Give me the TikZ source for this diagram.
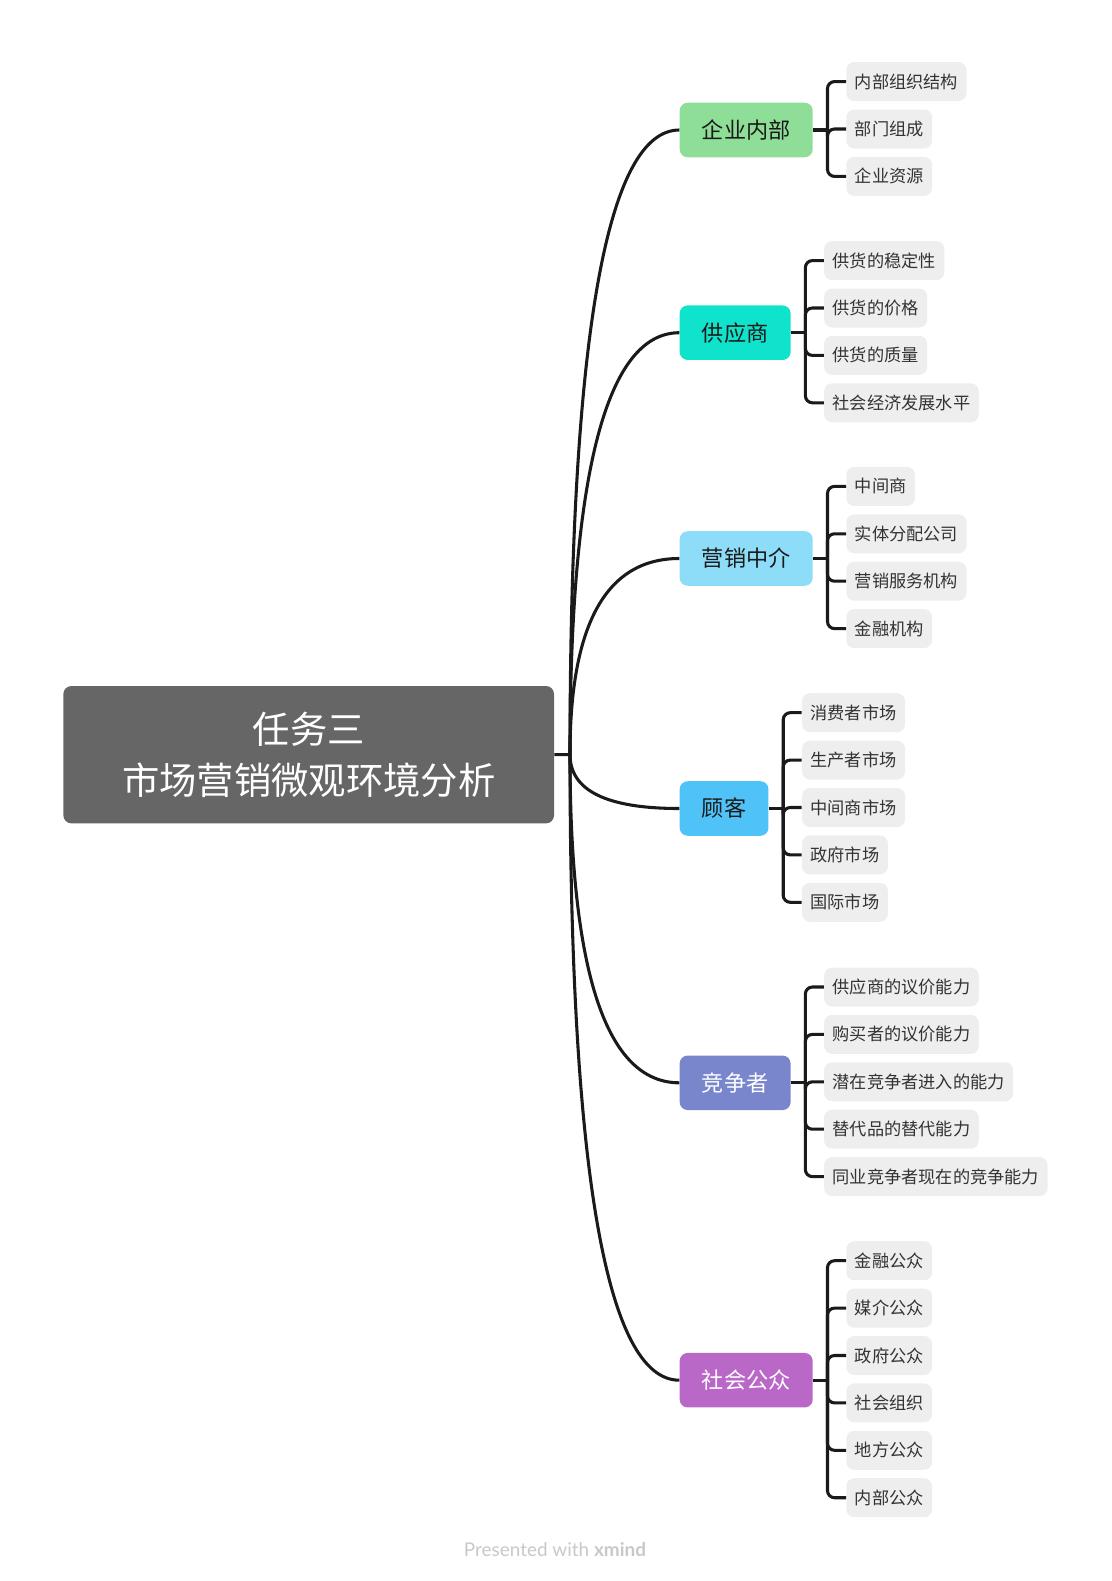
\documentclass[tikz,border=0pt]{standalone}
\usepackage{fontspec}
\setmainfont{Noto Sans CJK SC}
\newfontfamily\markfont{Lato}
\usepackage{xcolor}
\usetikzlibrary{positioning,calc}
\definecolor{rootgrey}{HTML}{666666}
\definecolor{leafgrey}{HTML}{EEEEEE}
\definecolor{leaftext}{HTML}{333333}
\definecolor{linkblack}{HTML}{1A1A1A}
\definecolor{markgrey}{HTML}{C8C8C8}
\definecolor{qyGreen}{HTML}{8EDE98}
\definecolor{gysTeal}{HTML}{10E3CB}
\definecolor{zjSky}{HTML}{8EDDF8}
\definecolor{gkBlue}{HTML}{4FC3F7}
\definecolor{jzIndigo}{HTML}{7986CB}
\definecolor{gzPurple}{HTML}{BA68C8}

\begin{document}
\begin{tikzpicture}[x=0.75pt, y=-0.75pt,
  link/.style={draw=linkblack, line width=2.3pt},
  root/.style={fill=rootgrey, rounded corners=6pt, text=white, align=center,
    minimum width=368pt, minimum height=103pt,
    font=\fontsize{28pt}{38.75pt}\selectfont},
  branch/.style={rounded corners=6pt, anchor=west, inner xsep=16.7pt,
    inner ysep=0pt, minimum height=40.9pt, text=linkblack,
    font=\fontsize{16.6pt}{20pt}\selectfont},
  leaf/.style={fill=leafgrey, rounded corners=6pt, inner xsep=6.4pt,
    inner ysep=0pt, minimum height=29.25pt, text=leaftext,
    font=\fontsize{12.9pt}{16pt}\selectfont}]
  \useasboundingbox (0,0) rectangle (1112,1581);

  % Central topic
  \node[root] (root) at (308.7,754.7) {任务三\\市场营销微观环境分析};
  \coordinate (hub) at (570,754.5);
  \draw[link] (root.east) -- (hub);

  % Main topics
  \node[branch, fill=qyGreen] (qy) at (679.4,130) {企业内部};
  \node[branch, fill=gysTeal] (gys) at (679.4,332.7) {供应商};
  \node[branch, fill=zjSky] (zj) at (679.4,558.5) {营销中介};
  \node[branch, fill=gkBlue] (gk) at (679.4,808.5) {顾客};
  \node[branch, fill=jzIndigo, text=white] (jz) at (679.4,1082.8) {竞争者};
  \node[branch, fill=gzPurple, text=white] (gz) at (679.4,1380.2) {社会公众};

  % Curves from the hub
  \foreach \b in {qy,gys,zj,gk,jz,gz}
    \draw[link] (hub) .. controls ($(hub)!0.667!(hub |- \b.west)$)
      and ($(\b.west)!0.667!(hub |- \b.west)$) .. (\b.west);

  % Stubs to the brackets
  \foreach \b in {qy,gys,zj,gk,jz,gz}
    \draw[link] (\b.east) -- ++(14.5,0) coordinate (\b-j);

  % Subtopics
  \foreach \txt [count=\i] in {内部组织结构,部门组成,企业资源} {
    \node[leaf, right=24.75pt of qy, yshift={(2-\i)*35.55pt+0.75pt}] (qy-\i) {\txt};
    \draw[link, rounded corners=5.25pt] (qy-j) |- (qy-\i.west);
  }
  \foreach \txt [count=\i] in {供货的稳定性,供货的价格,供货的质量,社会经济发展水平} {
    \node[leaf, right=24.75pt of gys, yshift={(2.5-\i)*35.55pt+0.75pt}] (gys-\i) {\txt};
    \draw[link, rounded corners=5.25pt] (gys-j) |- (gys-\i.west);
  }
  \foreach \txt [count=\i] in {中间商,实体分配公司,营销服务机构,金融机构} {
    \node[leaf, right=24.75pt of zj, yshift={(2.5-\i)*35.55pt+0.75pt}] (zj-\i) {\txt};
    \draw[link, rounded corners=5.25pt] (zj-j) |- (zj-\i.west);
  }
  \foreach \txt [count=\i] in {消费者市场,生产者市场,中间商市场,政府市场,国际市场} {
    \node[leaf, right=24.75pt of gk, yshift={(3-\i)*35.55pt+0.75pt}] (gk-\i) {\txt};
    \draw[link, rounded corners=5.25pt] (gk-j) |- (gk-\i.west);
  }
  \foreach \txt [count=\i] in {供应商的议价能力,购买者的议价能力,潜在竞争者进入的能力,替代品的替代能力,同业竞争者现在的竞争能力} {
    \node[leaf, right=24.75pt of jz, yshift={(3-\i)*35.55pt+0.75pt}] (jz-\i) {\txt};
    \draw[link, rounded corners=5.25pt] (jz-j) |- (jz-\i.west);
  }
  \foreach \txt [count=\i] in {金融公众,媒介公众,政府公众,社会组织,地方公众,内部公众} {
    \node[leaf, right=24.75pt of gz, yshift={(3.5-\i)*35.55pt+0.75pt}] (gz-\i) {\txt};
    \draw[link, rounded corners=5.25pt] (gz-j) |- (gz-\i.west);
  }

  % Footer
  \node[font=\markfont\fontsize{14.2pt}{17pt}\selectfont, text=markgrey] (mark)
    at (555,1549.5) {Presented with \textbf{xmind}};
\end{tikzpicture}
\end{document}
